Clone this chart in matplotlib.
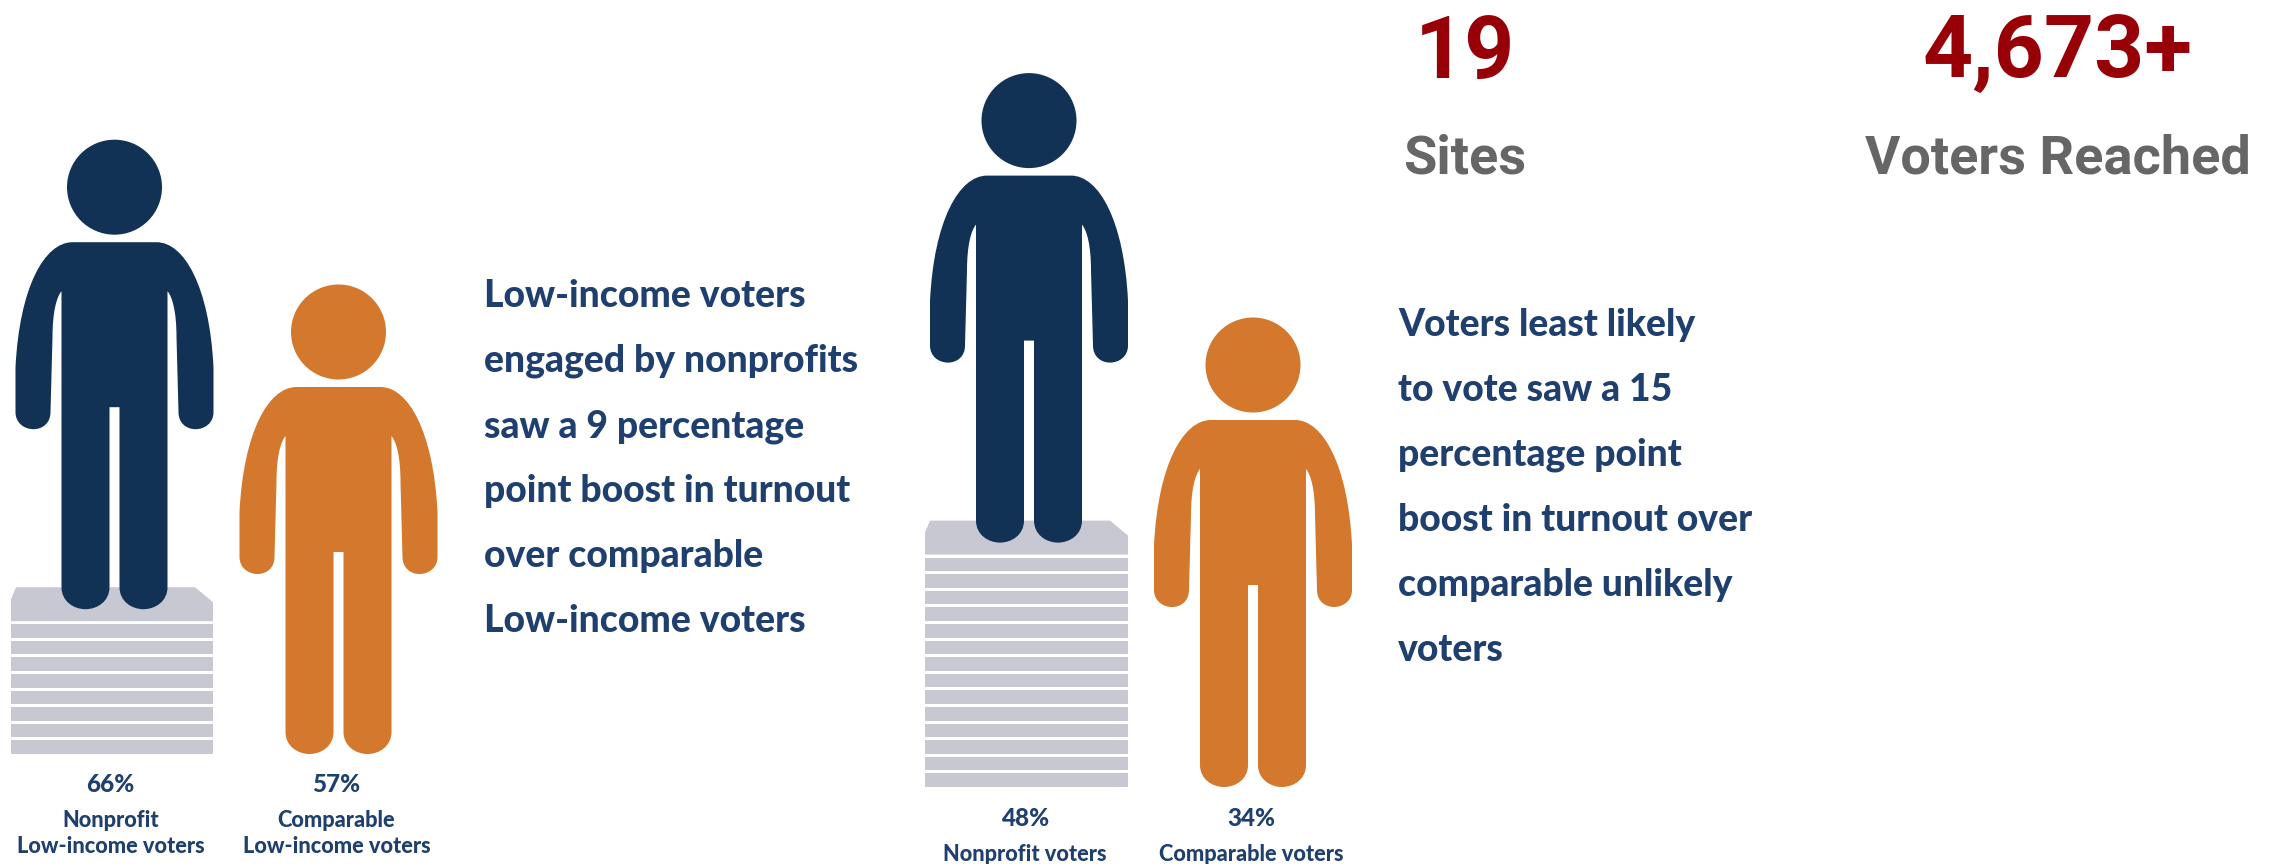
import matplotlib
matplotlib.use('Agg')
import matplotlib.pyplot as plt
from matplotlib.path import Path
from matplotlib.patches import PathPatch, Circle, Polygon, Rectangle

# values
groups = ['Low-income', 'Unlikely']
nonprofit_pct = [66, 48]
comparable_pct = [57, 34]
boost_points = [9, 15]
nonprofit_labels = ['Nonprofit\nLow-income voters', 'Nonprofit voters']
comparable_labels = ['Comparable\nLow-income voters', 'Comparable voters']
blurbs = [
    ['Low-income voters', 'engaged by nonprofits', 'saw a 9 percentage',
     'point boost in turnout', 'over comparable', 'Low-income voters'],
    ['Voters least likely', 'to vote saw a 15', 'percentage point',
     'boost in turnout over', 'comparable unlikely', 'voters'],
]
stat_values = ['19', '4,673+']
stat_names = ['Sites', 'Voters Reached']

NAVY = '#123255'
ORANGE = '#D4782D'
PAPER = '#C7C8D2'
TEXT = '#1F3F6E'
RED = '#970007'
GRAY = '#666666'

# layout, in image pixels
navy_x = [114.5, 1029]
orange_x = [338.5, 1253]
base_y = [754, 787]
stack_left = [11, 925]
stack_right = [213, 1128]
blurb_x = [484, 1398]
blurb_y = [307, 336]
pct_y = [792, 826]
stat_x = [1465, 2058]
SHEET = 16.6
TOP_SHEET = 34
FOOT_SINK = 22

fig = plt.figure(figsize=(22.77, 8.64), dpi=100, facecolor='white')
ax = fig.add_axes([0, 0, 1, 1])
ax.set_xlim(0, 2277)
ax.set_ylim(864, 0)
ax.axis('off')


# Person icon, drawn around the head centre
def draw_person(cx, foot_y, color):
    hy = foot_y - 422
    half = [
        (Path.MOVETO, (0, 55)),
        (Path.LINETO, (-42, 55)),
        (Path.CURVE4, (-70, 55)), (Path.CURVE4, (-95, 100)), (Path.CURVE4, (-99, 180)),
        (Path.LINETO, (-99, 225)),
        (Path.CURVE4, (-99, 236)), (Path.CURVE4, (-90, 242)), (Path.CURVE4, (-81, 242)),
        (Path.CURVE4, (-72, 242)), (Path.CURVE4, (-64, 236)), (Path.CURVE4, (-64, 225)),
        (Path.LINETO, (-62, 150)),
        (Path.CURVE4, (-62, 125)), (Path.CURVE4, (-58, 110)), (Path.CURVE4, (-53, 104)),
        (Path.LINETO, (-53, 400)),
        (Path.CURVE4, (-53, 414)), (Path.CURVE4, (-41, 422)), (Path.CURVE4, (-29, 422)),
        (Path.CURVE4, (-17, 422)), (Path.CURVE4, (-5, 414)), (Path.CURVE4, (-5, 400)),
        (Path.LINETO, (-5, 220)),
        (Path.LINETO, (0, 220)),
    ]
    codes = [c for c, _ in half]
    verts = [(cx + x, hy + y) for _, (x, y) in half]
    # right half, walked back up the other side
    for i in range(len(half) - 2, -1, -1):
        x, y = half[i][1]
        code = half[i + 1][0] if half[i + 1][0] != Path.MOVETO else Path.LINETO
        codes.append(code)
        verts.append((cx - x, hy + y))
    ax.add_patch(PathPatch(Path(verts, codes), fc=color, ec='none', zorder=3))
    ax.add_patch(Circle((cx, hy), 47.5, fc=color, ec='none', zorder=3))


# Stack of sheets, one sheet per percentage point of boost
def draw_stack(left, right, bottom, sheets):
    for i in range(sheets - 1):
        ax.add_patch(Rectangle((left, bottom - SHEET * (i + 1) + 3), right - left, SHEET - 3,
                               fc=PAPER, ec='none', zorder=1))
    low = bottom - SHEET * (sheets - 1)
    ax.add_patch(Polygon([(left, low), (left, low - TOP_SHEET + 12), (left + 5, low - TOP_SHEET),
                          (right - 18, low - TOP_SHEET), (right, low - TOP_SHEET + 15), (right, low)],
                         closed=True, fc=PAPER, ec='none', zorder=1))
    return low - TOP_SHEET


for g in range(len(groups)):
    top = draw_stack(stack_left[g], stack_right[g], base_y[g], boost_points[g])
    draw_person(navy_x[g], top + FOOT_SINK, NAVY)
    draw_person(orange_x[g], base_y[g], ORANGE)

    for j, line in enumerate(blurbs[g]):
        ax.text(blurb_x[g], blurb_y[g] + j * 65, line, family='Lato', weight='black',
                fontsize=26.8, color=TEXT, va='baseline', ha='left')

    pairs = [(navy_x[g] - 4, nonprofit_pct[g], nonprofit_labels[g]),
             (orange_x[g] - 2, comparable_pct[g], comparable_labels[g])]
    for x, pct, label in pairs:
        ax.text(x, pct_y[g], f'{pct}%', family='Lato', weight='black', fontsize=17.5,
                color=TEXT, ha='center', va='baseline')
        for k, row in enumerate(label.split('\n')):
            ax.text(x, pct_y[g] + 35 + k * 26, row, family='Lato', weight='black', fontsize=15.7,
                    color=TEXT, ha='center', va='baseline')

for x, value, name in zip(stat_x, stat_values, stat_names):
    ax.text(x, 78, value, family='Roboto', weight='bold',
            fontsize=63, color=RED, ha='center', va='baseline')
    ax.text(x, 173, name, family='Roboto', weight='bold',
            fontsize=39, color=GRAY, ha='center', va='baseline')

fig.savefig('out.png', dpi=100)
